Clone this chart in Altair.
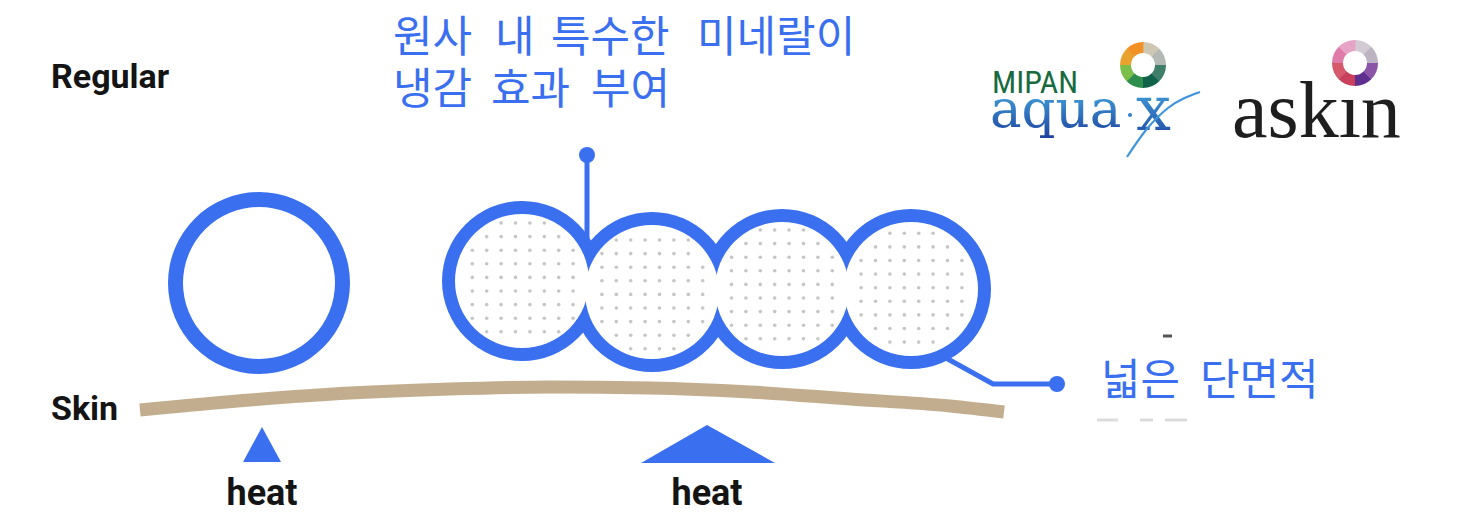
import math
import numpy as np
import pandas as pd
import altair as alt

BLUE = "#3a6ff0"
TAN = "#c2ae8e"
INK = "#141414"
TAU = 2 * math.pi

# ---- single fibre (regular) ----
single_x = [259]
single_y = [283]
single_outer = [91]
single_inner = [76]

# ---- multi-lobe fibre (aqua-X) ----
chain_x = [522, 652, 782, 911]
chain_y = [281, 292, 289, 289]
chain_outer = 80
chain_inner = 67
dot_grid_y0 = [223, 226.4, 230, 233.3]   # dot texture row offsets per lobe
dot_grid_x0 = 486.7
dot_step_x = 14.4
dot_step_y = 13.6

# ---- skin curve ----
skin_x = [140, 250, 350, 450, 550, 650, 750, 850, 950, 1004]
skin_y = [410, 400, 393, 389, 387, 388, 392, 399, 406, 412]

# ---- heat triangles ----
tri_id = ["a", "a", "a", "b", "b", "b"]
tri_x = [243, 262, 281, 641, 707, 775]
tri_top = [462, 427, 462, 463, 425, 463]
tri_base = [462, 462, 462, 463, 463, 463]

# ---- callout lines ----
call_id = ["pin", "pin", "lead", "lead", "lead"]
call_ord = [0, 1, 0, 1, 2]
call_x = [587, 587, 946, 993, 1057]
call_y = [155, 246, 358, 384, 384]
knob_x = [587, 1057]
knob_y = [155, 384]

# ---- faint leftover marks near the lower callout ----
mark_x = [1163, 1097, 1140, 1165]
mark_x2 = [1172, 1118, 1153, 1187]
mark_y = [336, 420, 420, 420]
mark_c = ["#555555", "#dcdcdc", "#dcdcdc", "#dcdcdc"]

# ---- labels ----
black_text = ["Regular", "Skin", "heat", "heat"]
black_x = [51, 51, 262, 707]
black_y = [88, 420, 505, 505]
black_size = [34, 34, 36, 36]
black_align = ["left", "left", "center", "center"]

kr_text = ["원사", "내", "특수한", "미네랄이", "냉감", "효과", "부여", "넓은", "단면적"]
kr_x = [393, 495, 551, 697, 393, 491, 591, 1101, 1200]
kr_y = [52, 52, 52, 52, 104, 104, 104, 395, 395]

# ---- logos ----
ring1_colors = ["#cdc7b4", "#b4b9b5", "#3f7f69", "#10624b", "#2e8e4c", "#7bbf4a", "#eaa22f", "#f29224"]
ring2_colors = ["#d2cbd3", "#bcb3c3", "#8a55a6", "#5f2f90", "#c8405b", "#d5596b", "#e07aa9", "#e6a3c5"]
ring_cx = [1143, 1355]
ring_cy = [65, 63]

swoosh_x = [1127, 1146, 1168, 1200]
swoosh_y = [157, 130, 108, 92]

xs = alt.Scale(domain=[8, 1452], nice=False, zero=False)
ys = alt.Scale(domain=[8, 509], nice=False, zero=False, reverse=True)


def X(f):
    return alt.X(f, type="quantitative", scale=xs, axis=None)


def Y(f):
    return alt.Y(f, type="quantitative", scale=ys, axis=None)


# skin
skin = alt.Chart(pd.DataFrame({"x": skin_x, "y": skin_y})).mark_line(
    color=TAN, strokeWidth=13, strokeCap="butt", interpolate="monotone"
).encode(x=X("x"), y=Y("y"))

# single ring
single = alt.Chart(pd.DataFrame({
    "x": single_x, "y": single_y, "ro": single_outer, "ri": single_inner,
    "t0": [0.0], "t1": [TAU]})).mark_arc(color=BLUE).encode(
    x=X("x"), y=Y("y"),
    theta=alt.Theta("t0:Q", scale=None), theta2="t1",
    radius=alt.Radius("ro:Q", scale=None), radius2="ri")

# chain: blue discs then white discs -> outline of the union
chain_df = pd.DataFrame({"x": chain_x, "y": chain_y, "t0": 0.0, "t1": TAU,
                         "ro": chain_outer, "ri": chain_inner, "z": 0})
chain_blue = alt.Chart(chain_df).mark_arc(color=BLUE).encode(
    x=X("x"), y=Y("y"), theta=alt.Theta("t0:Q", scale=None), theta2="t1",
    radius=alt.Radius("ro:Q", scale=None), radius2="z")
chain_white = alt.Chart(chain_df).mark_arc(color="white").encode(
    x=X("x"), y=Y("y"), theta=alt.Theta("t0:Q", scale=None), theta2="t1",
    radius=alt.Radius("ri:Q", scale=None), radius2="z")

# dot texture inside lobes
cx = np.array(chain_x, dtype=float)
cy = np.array(chain_y, dtype=float)
dots = []
for i in range(len(chain_x)):
    gx = np.arange(dot_grid_x0 - dot_step_x * 5, 1000, dot_step_x)
    gy = np.arange(dot_grid_y0[i] - dot_step_y * 3, 380, dot_step_y)
    for px in gx:
        for py in gy:
            d = np.hypot(cx - px, cy - py)
            if np.argmin(d) == i and d.min() <= chain_inner - 3.5:
                dots.append((px, py))
dots_df = pd.DataFrame(dots, columns=["x", "y"])
dot_layer = alt.Chart(dots_df).mark_circle(color="#c6c6c6", size=13, opacity=1).encode(
    x=X("x"), y=Y("y"))

# callouts
call = alt.Chart(pd.DataFrame({"g": call_id, "o": call_ord, "x": call_x, "y": call_y})).mark_line(
    color=BLUE, strokeWidth=5).encode(x=X("x"), y=Y("y"), detail="g:N", order="o:Q")
knobs = alt.Chart(pd.DataFrame({"x": knob_x, "y": knob_y})).mark_circle(
    color=BLUE, size=256, opacity=1).encode(x=X("x"), y=Y("y"))

leftovers = alt.Chart(pd.DataFrame({"x": mark_x, "x2": mark_x2, "y": mark_y, "c": mark_c})).mark_rule(
    strokeWidth=3).encode(x=X("x"), x2="x2", y=Y("y"), color=alt.Color("c:N", scale=None))

# heat triangles
tri = alt.Chart(pd.DataFrame({"g": tri_id, "x": tri_x, "y": tri_top, "y2": tri_base})).mark_area(
    color=BLUE, interpolate="linear").encode(x=X("x"), y=Y("y"), y2="y2", detail="g:N")

# black labels
blk = alt.Chart(pd.DataFrame({"t": black_text, "x": black_x, "y": black_y,
                              "s": black_size, "a": black_align}))
blk_left = blk.transform_filter("datum.a == 'left'").mark_text(
    font="Roboto", fontWeight="bold", color=INK, align="left", baseline="alphabetic"
).encode(x=X("x"), y=Y("y"), text="t:N", size=alt.Size("s:Q", scale=None))
blk_center = blk.transform_filter("datum.a == 'center'").mark_text(
    font="Roboto", fontWeight="bold", color=INK, align="center", baseline="alphabetic"
).encode(x=X("x"), y=Y("y"), text="t:N", size=alt.Size("s:Q", scale=None))

kr = alt.Chart(pd.DataFrame({"t": kr_text, "x": kr_x, "y": kr_y})).mark_text(
    font="Noto Sans CJK KR", fontSize=43, color=BLUE, align="left", baseline="alphabetic"
).encode(x=X("x"), y=Y("y"), text="t:N")

# logos
seg = []
for k, cols in enumerate([ring1_colors, ring2_colors]):
    n = len(cols)
    for j, c in enumerate(cols):
        seg.append({"x": ring_cx[k], "y": ring_cy[k], "t0": TAU * j / n, "t1": TAU * (j + 1) / n + 0.02,
                    "c": c, "ro": 23, "ri": 12})
rings = alt.Chart(pd.DataFrame(seg)).mark_arc().encode(
    x=X("x"), y=Y("y"), theta=alt.Theta("t0:Q", scale=None), theta2="t1",
    radius=alt.Radius("ro:Q", scale=None), radius2="ri",
    color=alt.Color("c:N", scale=None))

mipan = alt.Chart(pd.DataFrame({"t": ["MIPAN"], "x": [992], "y": [93]})).mark_text(
    font="Liberation Sans Narrow, Roboto Condensed, Roboto", fontSize=32, color="#176b3f",
    align="left", baseline="alphabetic").encode(x=X("x"), y=Y("y"), text="t:N")

aqua_grad = alt.LinearGradient(
    gradient="linear",
    stops=[alt.GradientStop(offset=0, color="#4bbcec"), alt.GradientStop(offset=1, color="#1c3f9e")],
    x1=0, x2=0, y1=0, y2=1)
aqua = alt.Chart(pd.DataFrame({"t": ["aqua"], "x": [990], "y": [127]})).mark_text(
    font="DejaVu Serif", fontSize=53, fill=aqua_grad, align="left", baseline="alphabetic"
).encode(x=X("x"), y=Y("y"), text="t:N")
aqua_x = alt.Chart(pd.DataFrame({"t": ["x"], "x": [1136], "y": [130]})).mark_text(
    font="DejaVu Serif", fontSize=62, fill=aqua_grad, align="left", baseline="alphabetic"
).encode(x=X("x"), y=Y("y"), text="t:N")
aqua_dot = alt.Chart(pd.DataFrame({"x": [1130], "y": [115]})).mark_circle(
    color="#2f7fd0", size=16, opacity=1).encode(x=X("x"), y=Y("y"))
swoosh = alt.Chart(pd.DataFrame({"x": swoosh_x, "y": swoosh_y})).mark_line(
    color="#3f95dc", strokeWidth=2.2, interpolate="monotone").encode(x=X("x"), y=Y("y"))

askin = alt.Chart(pd.DataFrame({"t": ["askın"], "x": [1232], "y": [137]})).mark_text(
    font="Liberation Serif", fontSize=80, color="#1e1e1e", align="left", baseline="alphabetic"
).encode(x=X("x"), y=Y("y"), text="t:N")

chart = alt.layer(
    skin, single, chain_blue, chain_white, dot_layer, call, knobs, leftovers, tri,
    blk_left, blk_center, kr, rings, mipan, aqua, aqua_dot, aqua_x, swoosh, askin
).properties(
    width=1444, height=501, padding=0, autosize="none", background="white"
).configure_view(stroke=None)

chart.save("out.html", embed_options={"renderer": "svg", "actions": False})
